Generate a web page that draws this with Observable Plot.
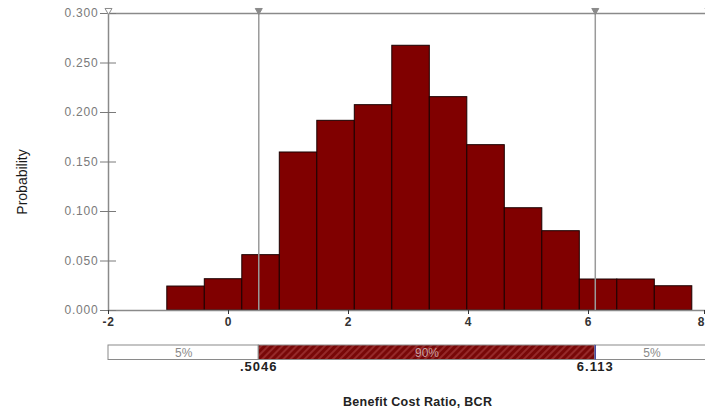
<!DOCTYPE html>
<html><head><meta charset="utf-8">
<script src="https://cdn.jsdelivr.net/npm/d3@7"></script>
<script src="https://cdn.jsdelivr.net/npm/@observablehq/plot@0.6"></script>
<style>
html,body{margin:0;padding:0;background:#fff;overflow:hidden;width:705px;height:412px;}
#wrap{position:relative;width:705px;height:412px;}
#chart svg,#pct svg{display:block;}
#title{position:absolute;top:395px;left:343px;font:bold 12.5px "Liberation Sans",Arial,sans-serif;color:#222;white-space:nowrap;letter-spacing:0.3px;}
#ylab{position:absolute;left:22px;top:182px;transform:translate(-50%,-50%) rotate(-90deg);font:14px "Liberation Sans",Arial,sans-serif;color:#1a1a1a;white-space:nowrap;}
.ytl text{letter-spacing:0.8px;}
.xtl text{letter-spacing:0.6px;}
.pl text{letter-spacing:1px;}
</style></head><body>
<div id="wrap"><div id="chart"></div><div id="pct"></div><div id="title"></div><div id="ylab"></div></div>
<script>
// ---- data ----
const binEdges = [-1.02, -0.395, 0.23, 0.855, 1.48, 2.105, 2.73, 3.355, 3.98, 4.605, 5.23, 5.855, 6.48, 7.105, 7.73];
const probabilities = [0.0242, 0.0316, 0.0559, 0.1596, 0.1916, 0.2074, 0.2674, 0.2155, 0.1670, 0.1033, 0.0801, 0.0313, 0.0313, 0.0245];
const xTicks = [-2, 0, 2, 4, 6];
const xEdgeTick = [8];
const yTicks = [0, 0.05, 0.10, 0.15, 0.20, 0.25, 0.30];
const xDomain = [-2, 8];
const yDomain = [0, 0.3];
const percentileValues = [0.5046, 6.113];
const percentileLabels = [".5046", "6.113"];
const segmentShares = ["5%", "90%", "5%"];
const yLabel = "Probability";
const xLabel = "Benefit Cost Ratio, BCR";

const font = "'Liberation Sans', Arial, sans-serif";
const bins = probabilities.map((p, i) => ({x1: binEdges[i], x2: binEdges[i + 1], p}));
const markers = [xDomain[0], ...percentileValues, xDomain[1]];

const main = Plot.plot({
  width: 705, height: 330,
  marginLeft: 108, marginRight: -3, marginTop: 13, marginBottom: 20,
  style: {fontFamily: font, background: "#fff"},
  x: {domain: xDomain},
  y: {domain: yDomain},
  marks: [
    Plot.rectY(bins, {x1: "x1", x2: "x2", y: "p", fill: "#800000", stroke: "#1a0000", strokeWidth: 1}),
    Plot.ruleX(percentileValues, {stroke: "#9a9a9a", strokeWidth: 1.5}),
    Plot.frame({stroke: "#8a8a8a", strokeWidth: 1.5}),
    Plot.axisY(yTicks, {tickSize: 8, tickPadding: 2, tickFormat: d3.format(".3f"), fontSize: 12, color: "#7a7a7a", label: null, className: "ytl"}),
    Plot.axisY(yTicks, {tickSize: -8, tickFormat: () => "", color: "#7a7a7a", label: null}),
    Plot.axisX(xTicks, {tickSize: 4, tickPadding: 3, tickFormat: d => String(d), fontSize: 12, fontWeight: "bold", color: "#333", label: null, className: "xtl"}),
    Plot.axisX(xEdgeTick, {tickSize: 4, tickPadding: 3, tickFormat: d => String(d), textAnchor: "end", dx: -4, fontSize: 12, fontWeight: "bold", color: "#333", label: null}),
    Plot.dot(markers, {x: d => d, frameAnchor: "top", dy: -3, symbol: "triangle", rotate: 180, r: 2.6,
      fill: (d, i) => (i === 1 || i === 2) ? "#8a8a8a" : "#fff", stroke: "#8a8a8a", strokeWidth: 1})
  ]
});
document.getElementById("chart").appendChild(main);

const bounds = [xDomain[0], ...percentileValues, xDomain[1]];
const segments = segmentShares.map((s, i) => ({x1: bounds[i], x2: bounds[i + 1], s, hatched: i === 1}));

const pct = Plot.plot({
  width: 705, height: 52,
  marginLeft: 108, marginRight: -3, marginTop: 15, marginBottom: 22.5,
  style: {fontFamily: font, background: "#fff"},
  x: {domain: xDomain, axis: null},
  marks: [
    Plot.rect(segments, {x1: "x1", x2: "x2", fill: d => d.hatched ? "url(#hatch)" : "#fff", stroke: "#8a8a8a", strokeWidth: 1}),
    Plot.ruleX([percentileValues[1]], {stroke: "#4a4aa0", strokeWidth: 1.5}),
    Plot.text(segments, {x: d => (d.x1 + d.x2) / 2, text: "s", frameAnchor: "middle", fontSize: 12,
      fill: d => d.hatched ? "#caa2a2" : "#8a8a8a"}),
    Plot.text(percentileValues, {x: d => d, text: (d, i) => percentileLabels[i], frameAnchor: "bottom", dy: 11,
      fontSize: 13, fontWeight: "bold", fill: "#222", className: "pl"})
  ]
});
pct.insertAdjacentHTML("afterbegin",
  '<defs><pattern id="hatch" patternUnits="userSpaceOnUse" width="5" height="5" patternTransform="rotate(45)">' +
  '<rect width="5" height="5" fill="#780808"></rect><line x1="1" y1="0" x2="1" y2="5" stroke="#a53a3a" stroke-width="1.3"></line></pattern></defs>');
document.getElementById("pct").appendChild(pct);
document.getElementById("title").textContent = xLabel;
document.getElementById("ylab").textContent = yLabel;
</script>
</body></html>
